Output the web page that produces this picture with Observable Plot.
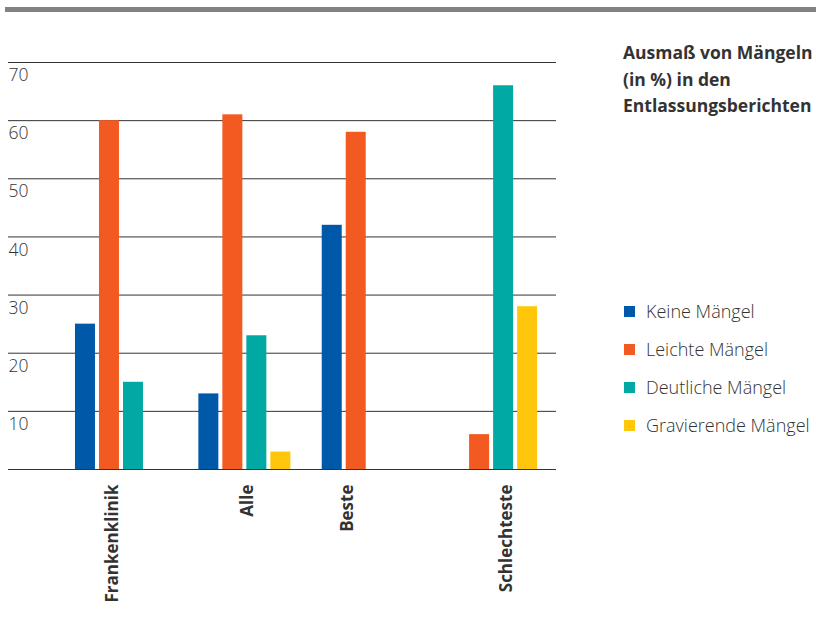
<!DOCTYPE html>
<html>
<head>
<meta charset="utf-8">
<script src="https://cdn.jsdelivr.net/npm/d3@7"></script>
<script src="https://cdn.jsdelivr.net/npm/@observablehq/plot@0.6"></script>
<style>
  html, body { margin: 0; padding: 0; background: #fff; }
  #wrap { position: relative; width: 816px; height: 624px; overflow: hidden; font-family: "Open Sans", sans-serif; color: #333; }
  #topbar { position: absolute; left: 5px; right: 0; top: 7px; height: 5px; background: #828282; }
  #title { position: absolute; left: 623px; top: 39px; font-size: 17.5px; font-weight: 700; line-height: 26.7px; color: #333; white-space: nowrap; }
  .lg-sw { position: absolute; width: 11px; height: 11px; }
  .lg-tx { position: absolute; font-size: 18px; font-weight: 300; line-height: 38px; color: #333; white-space: nowrap; }
  #chart { position: absolute; left: 0; top: 0; }
</style>
</head>
<body>
<div id="wrap">
  <div id="topbar"></div>
  <div id="chart"></div>
  <div id="title">Ausmaß von Mängeln<br>(in %) in den<br>Entlassungsberichten</div>
</div>
<script>
// Hospital groups along the x axis
const groups = ["Frankenklinik", "Alle", "Beste", "Schlechteste"];

// Severity classes and their colours
const series = ["Keine Mängel", "Leichte Mängel", "Deutliche Mängel", "Gravierende Mängel"];
const colors = ["#0058a8", "#f25a22", "#00a9a4", "#ffc60b"];

// Share of discharge letters per severity class (%), one value per group
const keine       = [25, 13, 42, 0];
const leichte     = [60, 61, 58, 6];
const deutliche   = [15, 23, 0, 66];
const gravierende = [0, 3, 0, 28];

// Y axis ticks
const yTicks = [10, 20, 30, 40, 50, 60, 70];
const gridValues = [0, ...yTicks];

// Bar layout in slot units: one slot per severity class, groups spaced apart
const groupStep = 5.14;
const barWidth = 0.833;

const valuesBySeries = [keine, leichte, deutliche, gravierende];
const rows = groups.flatMap((g, gi) =>
  series.map((s, si) => ({
    group: g,
    series: s,
    value: valuesBySeries[si][gi],
    u: gi * groupStep + si
  }))
).filter(d => d.value > 0);

// Each group label sits under the middle of the bars that are present
const labelRows = groups.map(g => {
  const us = rows.filter(d => d.group === g).map(d => d.u);
  return { name: g, cx: (d3.min(us) + d3.max(us) + barWidth) / 2 };
});

const chart = Plot.plot({
  width: 816,
  height: 624,
  marginLeft: 8,
  marginRight: 260,
  marginTop: 62,
  marginBottom: 155,
  x: { domain: [-2.79, 20.04], axis: null },
  y: { domain: [0, 70], axis: null },
  color: { domain: series, range: colors },
  style: { fontFamily: "Open Sans, sans-serif", color: "#333", background: "transparent" },
  marks: [
    Plot.ruleY(gridValues, { stroke: "#333", strokeWidth: 1 }),
    Plot.rectY(rows, {
      x1: "u",
      x2: d => d.u + barWidth,
      y: "value",
      fill: "series"
    }),
    Plot.axisY(yTicks, {
      anchor: "left",
      label: null,
      tickSize: 0,
      tickPadding: 0,
      textAnchor: "start",
      dy: 13,
      fontSize: 17.5,
      fontWeight: 300,
      fill: "#333"
    }),
    Plot.text(labelRows, {
      x: d => d.cx,
      y: () => 0,
      text: "name",
      rotate: -90,
      textAnchor: "end",
      dx: 3,
      dy: 15,
      fontSize: 17,
      fontWeight: 700,
      fill: "#333"
    })
  ]
});
document.getElementById("chart").appendChild(chart);

// Vertical legend on the right
const wrap = document.getElementById("wrap");
series.forEach((s, i) => {
  const top = 292 + i * 38;
  const sw = document.createElement("div");
  sw.className = "lg-sw";
  sw.style.left = "624px";
  sw.style.top = (top + 14) + "px";
  sw.style.background = colors[i];
  wrap.appendChild(sw);
  const tx = document.createElement("div");
  tx.className = "lg-tx";
  tx.style.left = "646px";
  tx.style.top = top + "px";
  tx.textContent = s;
  wrap.appendChild(tx);
});
</script>
</body>
</html>
